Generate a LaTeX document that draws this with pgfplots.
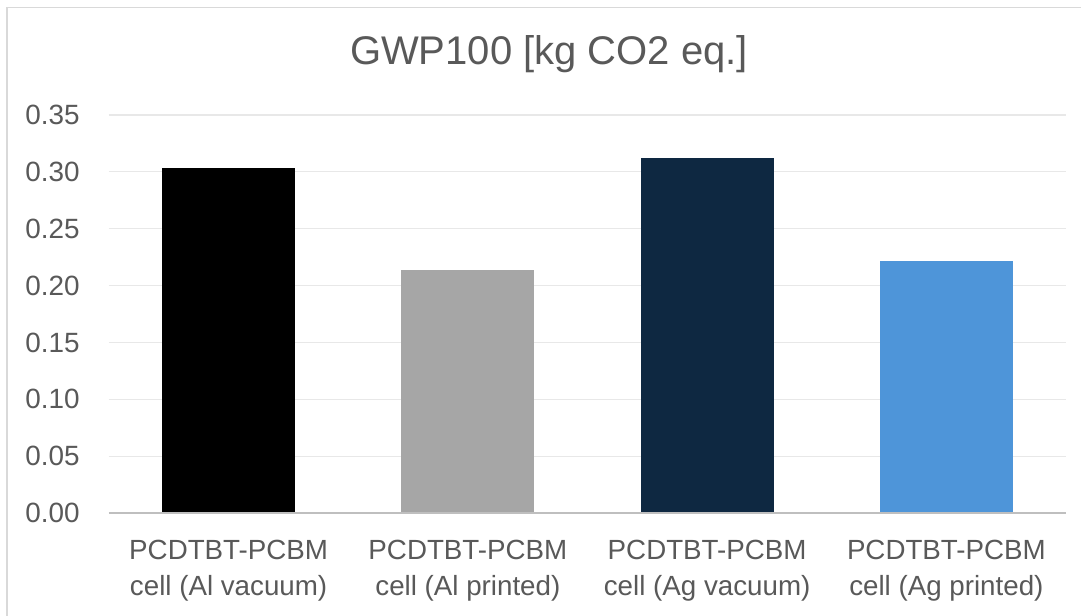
\documentclass[border=0pt]{standalone}
\usepackage{pgfplots}
\pgfplotsset{compat=1.18}
\usepackage{fontspec}
\setmainfont{Liberation Sans}
\definecolor{txt}{HTML}{595959}
\definecolor{gridc}{HTML}{E8E8E8}
\definecolor{axc}{HTML}{BFBFBF}
\definecolor{framec}{HTML}{D9D9D9}
\definecolor{cA}{HTML}{000000}
\definecolor{cB}{HTML}{A6A6A6}
\definecolor{cC}{HTML}{0E2841}
\definecolor{cD}{HTML}{4E95D9}
\begin{document}
\begin{tikzpicture}
\useasboundingbox (0pt,0pt) rectangle (810.75pt,461.25pt);
\fill[white] (0pt,0pt) rectangle (810.75pt,461.25pt);
\draw[framec, line width=1.3pt] (5.5pt,-20pt) rectangle (830pt,455.6pt);
\begin{axis}[
  at={(81.75pt,76.5pt)}, anchor=south west,
  scale only axis, width=717.75pt, height=298.5pt,
  xmin=-0.5, xmax=3.5, ymin=0, ymax=0.35,
  ytick={0,0.05,...,0.351},
  xtick={0,1,2,3},
  xticklabels={{PCDTBT-PCBM\\cell (Al vacuum)},{PCDTBT-PCBM\\cell (Al printed)},{PCDTBT-PCBM\\cell (Ag vacuum)},{PCDTBT-PCBM\\cell (Ag printed)}},
  major tick length=0pt,
  axis line style={draw=none},
  ymajorgrids, major grid style={draw=gridc, line width=0.8pt},
  /pgf/number format/assume math mode=true,
  yticklabel style={/pgf/number format/fixed, /pgf/number format/fixed zerofill, /pgf/number format/precision=2, font=\fontsize{20.9pt}{24pt}\selectfont, text=txt, anchor=east, inner sep=0pt, xshift=-21.75pt},
  xticklabel style={font=\fontsize{20.8pt}{27pt}\selectfont, text=txt, align=center, anchor=north, inner sep=0pt, yshift=-20pt},
  ybar, bar width=99.75pt, bar shift=0pt,
  clip=false,
]
\addplot[fill=cA, draw=none] coordinates {(0,0.303)};
\addplot[fill=cB, draw=none] coordinates {(1,0.2133)};
\addplot[fill=cC, draw=none] coordinates {(2,0.312)};
\addplot[fill=cD, draw=none] coordinates {(3,0.2213)};
\draw[axc, line width=2.2pt] (axis cs:-0.5,0) -- (axis cs:3.5,0);
\end{axis}
\node[anchor=base, inner sep=0pt, text=txt, font=\fontsize{30pt}{36pt}\selectfont] at (411.75pt,412.5pt) {GWP100 [kg CO2 eq.]};
\end{tikzpicture}
\end{document}
